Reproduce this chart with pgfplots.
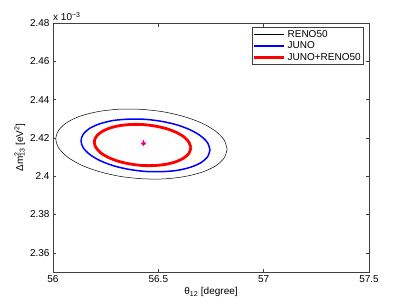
\documentclass[border=0pt]{standalone}
\usepackage{pgfplots}
\pgfplotsset{compat=1.18}
\usetikzlibrary{calc}
\usepackage{fontspec}
\setmainfont{Liberation Sans}
\begin{document}
\fontsize{10}{12}\selectfont
\begin{tikzpicture}
\begin{axis}[
  scale only axis, width=316pt, height=249pt,
  xmin=56, xmax=57.5, ymin=2.35, ymax=2.48,
  xtick={56,56.5,57,57.5},
  ytick={2.36,2.38,2.40,2.42,2.44,2.46,2.48},
  yticklabels={2.36,2.38,2.4,2.42,2.44,2.46,2.48},
  xticklabels={56,56.5,57,57.5},
  tick align=inside, tick pos=both, major tick length=3.5pt,
  axis line style={black!75, line width=0.6pt},
  every tick/.style={black!75, line width=0.5pt},
  ticklabel style={font=\fontsize{10}{12}\selectfont},
  /pgf/number format/assume math mode=true,
  xlabel={θ\textsubscript{12} [degree]},
  ylabel={Δm\rlap{\textsuperscript{2}}\textsubscript{13} [eV\textsuperscript{2}]},
  label style={font=\fontsize{10}{12}\selectfont},
  xlabel style={yshift=2pt},
  ylabel style={yshift=-2pt},
  legend style={at={(rel axis cs:0.984,0.984)}, anchor=north east, draw=black!75, line width=0.5pt,
    font=\fontsize{10}{11}\selectfont, inner xsep=1pt, inner ysep=1pt, row sep=-1pt,
    legend cell align=left},
  legend image code/.code={\draw[#1] (0pt,0pt) -- (30pt,0pt);},
  clip=false,
]
\addplot[black, line width=0.5pt, smooth] coordinates {
(56.8265,2.4141) (56.8126,2.4189) (56.7720,2.4235) (56.7074,2.4277) (56.6233,2.4311) (56.5252,2.4336)
(56.4200,2.4349) (56.3148,2.4350) (56.2167,2.4338) (56.1326,2.4315) (56.0680,2.4282) (56.0274,2.4241)
(56.0135,2.4195) (56.0274,2.4147) (56.0680,2.4101) (56.1326,2.4059) (56.2167,2.4025) (56.3148,2.4000)
(56.4200,2.3987) (56.5252,2.3986) (56.6233,2.3998) (56.7074,2.4021) (56.7720,2.4054) (56.8126,2.4095)
(56.8265,2.4141)};
\addlegendentry{RENO50}
\addplot[blue, line width=1.5pt, smooth] coordinates {
(56.7450,2.4137) (56.7346,2.4173) (56.7040,2.4208) (56.6554,2.4240) (56.5920,2.4267) (56.5182,2.4286)
(56.4390,2.4297) (56.3598,2.4298) (56.2860,2.4291) (56.2226,2.4274) (56.1740,2.4250) (56.1434,2.4219)
(56.1330,2.4185) (56.1434,2.4149) (56.1740,2.4114) (56.2226,2.4082) (56.2860,2.4055) (56.3598,2.4036)
(56.4390,2.4025) (56.5182,2.4024) (56.5920,2.4031) (56.6554,2.4048) (56.7040,2.4072) (56.7346,2.4103)
(56.7450,2.4137)};
\addlegendentry{JUNO}
\addplot[red, line width=2.8pt, smooth] coordinates {
(56.6540,2.4148) (56.6462,2.4176) (56.6233,2.4204) (56.5869,2.4228) (56.5395,2.4248) (56.4843,2.4262)
(56.4250,2.4270) (56.3657,2.4270) (56.3105,2.4263) (56.2631,2.4249) (56.2267,2.4229) (56.2038,2.4205)
(56.1960,2.4178) (56.2038,2.4150) (56.2267,2.4122) (56.2631,2.4098) (56.3105,2.4078) (56.3657,2.4064)
(56.4250,2.4056) (56.4843,2.4056) (56.5395,2.4063) (56.5869,2.4077) (56.6233,2.4097) (56.6462,2.4121)
(56.6540,2.4148)};
\addlegendentry{JUNO+RENO50}
\addplot[magenta, only marks, mark=+, mark size=2.8pt, line width=0.7pt, forget plot] coordinates {(56.43,2.4172)};
\addplot[magenta, only marks, mark=x, mark size=2.4pt, line width=0.7pt, forget plot] coordinates {(56.43,2.4172)};
\node[anchor=south west, inner sep=0pt, font=\fontsize{10}{12}\selectfont] at (rel axis cs:0,1) [yshift=2pt] {x 10\textsuperscript{−3}};
\coordinate (bl) at (rel axis cs:0,0);
\coordinate (tr) at (rel axis cs:1,1);
\end{axis}
\path ($(bl)+(-53pt,-34pt)$) rectangle ($(tr)+(38pt,23pt)$);
\end{tikzpicture}
\end{document}
